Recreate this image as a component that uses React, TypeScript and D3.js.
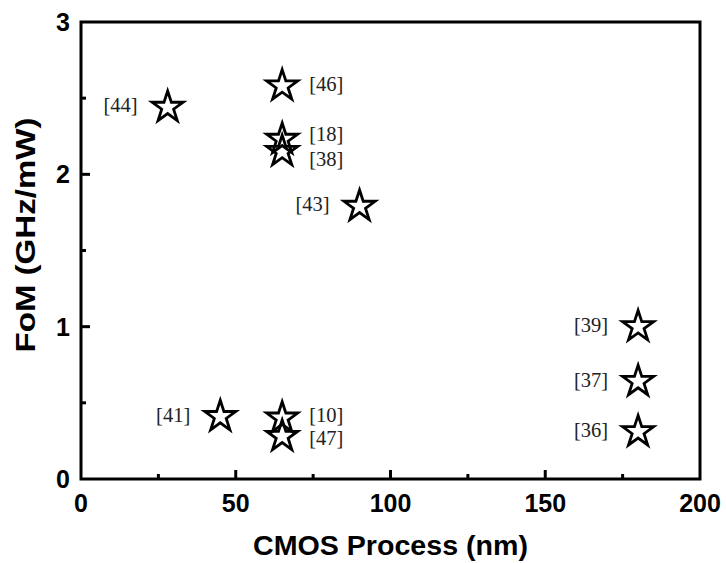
import { useEffect } from 'react'
import * as d3 from 'd3'

// CMOS process node (nm) vs figure of merit (GHz/mW)
const refs = ['[44]', '[46]', '[18]', '[38]', '[43]', '[39]', '[37]', '[36]', '[41]', '[10]', '[47]']
const process = [28, 65, 65, 65, 90, 180, 180, 180, 45, 65, 65]
const fom = [2.44, 2.58, 2.23, 2.15, 1.79, 1.0, 0.64, 0.31, 0.41, 0.4, 0.28]
const labelSide = ['left', 'right', 'right', 'right', 'left', 'left', 'left', 'left', 'left', 'right', 'right']

const xTicks = [0, 50, 100, 150, 200]
const xMinor = [25, 75, 125, 175]
const yTicks = [0, 1, 2, 3]
const yMinor = [0.5, 1.5, 2.5]

const W = 726, H = 563
const margin = { top: 22, right: 26, bottom: 84, left: 81 }

const sans = 'Liberation Sans, Arial, sans-serif'
const serif = 'Liberation Serif, Times New Roman, serif'

const App = () => {
  useEffect(() => { document.body.style.margin = '0' }, [])

  const x = d3.scaleLinear().domain([0, 200]).range([margin.left, W - margin.right])
  const y = d3.scaleLinear().domain([0, 3]).range([H - margin.bottom, margin.top])
  const star = d3.symbol().type(d3.symbolStar).size(300)()
  const x0 = x(0), x1 = x(200), y0 = y(0), y1 = y(3)

  // small nudges so stacked labels don't collide
  const labelDy: Record<string, number> = { '[18]': -5, '[38]': 7, '[10]': -3, '[47]': 1 }

  return (
    <svg width={W} height={H} style={{ display: 'block', background: '#fff' }}>
      {/* ticks, pointing inward */}
      <g stroke="#000" strokeWidth={3}>
        {xTicks.slice(1, -1).map(t => <line key={'xt' + t} x1={x(t)} x2={x(t)} y1={y0} y2={y0 - 9} />)}
        {xMinor.map(t => <line key={'xm' + t} x1={x(t)} x2={x(t)} y1={y0} y2={y0 - 5} />)}
        {yTicks.slice(1, -1).map(t => <line key={'yt' + t} x1={x0} x2={x0 + 9} y1={y(t)} y2={y(t)} />)}
        {yMinor.map(t => <line key={'ym' + t} x1={x0} x2={x0 + 5} y1={y(t)} y2={y(t)} />)}
      </g>
      <rect x={x0} y={y1} width={x1 - x0} height={y0 - y1} fill="none" stroke="#000" strokeWidth={3} />

      {/* tick labels */}
      <g fontFamily={sans} fontWeight="bold" fontSize={25} fill="#000">
        {xTicks.map(t => (
          <text key={'xl' + t} x={x(t)} y={y0 + 33} textAnchor="middle">{t}</text>
        ))}
        {yTicks.map(t => (
          <text key={'yl' + t} x={x0 - 11} y={y(t)} dy="0.36em" textAnchor="end">{t}</text>
        ))}
      </g>

      {/* axis titles */}
      <text x={(x0 + x1) / 2} y={555} textAnchor="middle" fontFamily={sans} fontWeight="bold" fontSize={27}
        textLength={275} lengthAdjust="spacingAndGlyphs">CMOS Process (nm)</text>
      <text transform={`translate(35,235) rotate(-90)`} textAnchor="middle" fontFamily={sans} fontWeight="bold" fontSize={27}
        textLength={235} lengthAdjust="spacingAndGlyphs">FoM (GHz/mW)</text>

      {/* points */}
      {refs.map((r, i) => (
        <path key={'p' + r} d={star ?? ''} transform={`translate(${x(process[i])},${y(fom[i])})`}
          fill="none" stroke="#000" strokeWidth={2.8} strokeLinejoin="miter" />
      ))}
      <g fontFamily={serif} fontSize={20.5} fill="#222">
        {refs.map((r, i) => {
          const left = labelSide[i] === 'left'
          return (
            <text key={'l' + r} x={x(process[i]) + (left ? -30 : 27)} y={y(fom[i]) + (labelDy[r] ?? -2)}
              dy="0.35em" textAnchor={left ? 'end' : 'start'}>{r}</text>
          )
        })}
      </g>
    </svg>
  )
}

export default App
